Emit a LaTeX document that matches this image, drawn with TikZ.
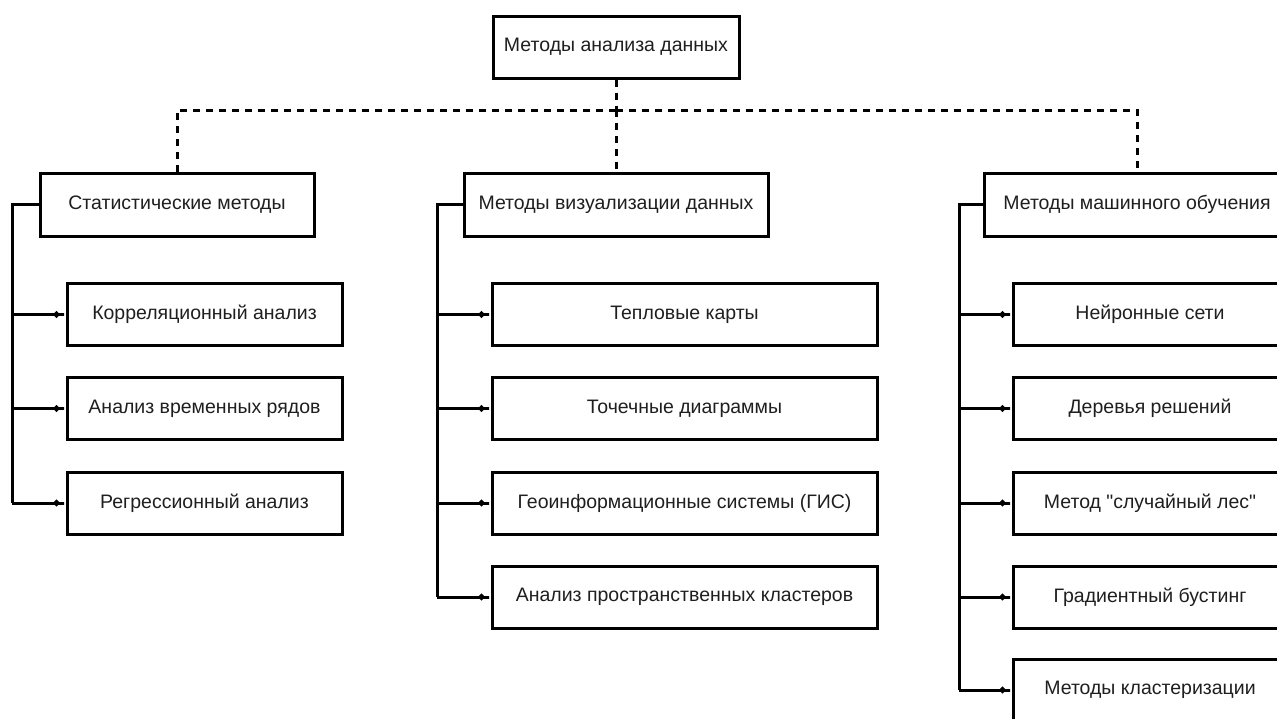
\documentclass[tikz,border=0pt]{standalone}
\usepackage{fontspec}
\newfontfamily\lsans{Liberation Sans}
\usetikzlibrary{arrows.meta}
\begin{document}
\begin{tikzpicture}[x=1pt,y=-1pt,
  box/.style={draw=black, line width=3pt, fill=white, inner sep=0pt,
    font=\lsans\fontsize{19.5}{22}\selectfont, text=black!88},
  l1box/.style={box, minimum height=63pt},
  l2box/.style={box, minimum height=62pt},
  dashline/.style={line width=3pt, dash pattern=on 7pt off 6pt},
  trunk/.style={line width=3pt},
  link/.style={line width=3pt, -{Circle[length=6pt]Rectangle[length=6pt,width=3pt]}},
]
\useasboundingbox (0,0) rectangle (1277,718);
\clip (0,0) rectangle (1277,718);

% root
\node[box, minimum width=246pt, minimum height=62pt] (root) at (616,47) {Методы анализа данных};

% level 1
\node[l1box, minimum width=274pt] (stat) at (177,204.5) {Статистические методы};
\node[l1box, minimum width=304pt] (vis) at (616,204.5) {Методы визуализации данных};
\node[l1box, minimum width=306pt] (ml) at (1137,204.5) {Методы машинного обучения};

% statistics children
\node[l2box, minimum width=275pt] (s1) at (204.5,314.5) {Корреляционный анализ};
\node[l2box, minimum width=275pt] (s2) at (204.5,408.5) {Анализ временных рядов};
\node[l2box, minimum width=275pt] (s3) at (204.5,503) {Регрессионный анализ};

% visualisation children
\node[l2box, minimum width=385pt] (v1) at (684.5,314.5) {Тепловые карты};
\node[l2box, minimum width=385pt] (v2) at (684.5,408.5) {Точечные диаграммы};
\node[l2box, minimum width=385pt] (v3) at (684.5,503) {Геоинформационные системы (ГИС)};
\node[l2box, minimum width=385pt] (v4) at (684.5,597) {Анализ пространственных кластеров};

% machine learning children
\node[l2box, minimum width=274pt] (m1) at (1150,314.5) {Нейронные сети};
\node[l2box, minimum width=274pt] (m2) at (1150,408.5) {Деревья решений};
\node[l2box, minimum width=274pt] (m3) at (1150,503) {Метод "случайный лес"};
\node[l2box, minimum width=274pt] (m4) at (1150,597) {Градиентный бустинг};
\node[l2box, minimum width=274pt] (m5) at (1150,690) {Методы кластеризации};

% dashed hierarchy
\coordinate (hb) at (616,110);
\draw[dashline] (root.south) -- (hb);
\draw[dashline] (hb) -| (stat.north);
\draw[dashline] (hb) -- (vis.north);
\draw[dashline] (hb) -| (ml.north);

% trunks
\coordinate (sT) at (12,503);
\coordinate (vT) at (437,597);
\coordinate (mT) at (959,690);
\draw[trunk] (stat.west) -| (sT);
\draw[trunk] (vis.west) -| (vT);
\draw[trunk] (ml.west) -| (mT);

% links
\foreach \c in {s1,s2,s3}{\draw[link] (\c.west -| sT) -- (\c.west);}
\foreach \c in {v1,v2,v3,v4}{\draw[link] (\c.west -| vT) -- (\c.west);}
\foreach \c in {m1,m2,m3,m4,m5}{\draw[link] (\c.west -| mT) -- (\c.west);}
\end{tikzpicture}
\end{document}
